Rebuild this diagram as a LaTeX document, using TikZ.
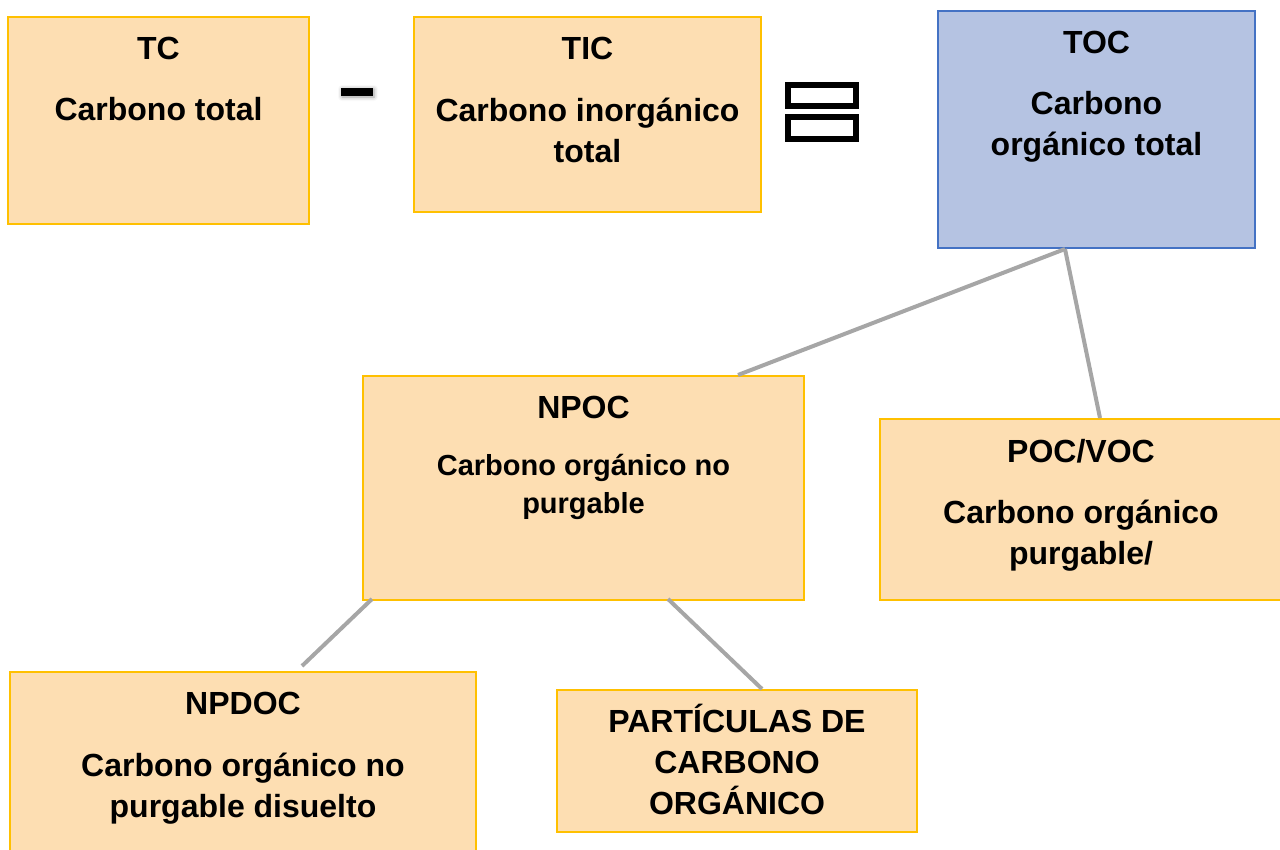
\documentclass[tikz,border=0pt]{standalone}
\usepackage{fontspec}
\setmainfont{Liberation Sans}
\usetikzlibrary{shadows.blur}
\definecolor{peach}{HTML}{FDDEB2}
\definecolor{gold}{HTML}{FFC000}
\definecolor{lilac}{HTML}{B5C3E2}
\definecolor{steel}{HTML}{4472C4}
\definecolor{linkgray}{HTML}{A6A6A6}
\tikzset{
  cbox/.style={draw=gold, fill=peach, line width=2pt, inner sep=0pt},
  tocbox/.style={draw=steel, fill=lilac, line width=2pt, inner sep=0pt},
  title/.style={anchor=north, inner sep=0pt, font=\bfseries\fontsize{32}{41}\selectfont},
  body/.style={title, align=center},
  link/.style={draw=linkgray, line width=4pt},
  eqbar/.style={draw=black, fill=white, line width=6pt, minimum width=68pt, inner sep=0pt},
}
\begin{document}
\begin{tikzpicture}[x=1pt,y=-1pt] % TOC = TC - TIC and its parts
  \useasboundingbox (0,0) rectangle (1280,849);
  \clip (0,0) rectangle (1280,849);
  \foreach \name/\x/\y/\w/\h in {tc/158.5/120.5/301/207, tic/587.5/114.5/347/195,
      npoc/583.5/488/441/224, poc/1081/509.5/402/181, npdoc/243/776/466/208,
      part/737/761/360/142} {
    \node[cbox, minimum width=\w pt, minimum height=\h pt] (\name) at (\x,\y) {};
  };
  \node[tocbox, minimum width=317pt, minimum height=237pt] (toc) at (1096.5,129.5) {};
  \foreach \name/\t/\b in {tc/TC/{Carbono total}, tic/TIC/{Carbono inorgánico\\total},
      toc/TOC/{Carbono\\orgánico total}, poc/POC\slash VOC/{Carbono orgánico\\purgable/},
      npdoc/NPDOC/{Carbono orgánico no\\purgable disuelto}} {
    \node[title] (\name-title) at ([yshift=-21pt]\name.north) {\t};
    \node[body] (\name-body) at ([yshift=-81.5pt]\name.north) {\b};
  };
  \node[title] (npoc-title) at ([yshift=-21pt]npoc.north) {NPOC};
  \node[body, font=\bfseries\fontsize{29}{38}\selectfont] (npoc-body)
    at ([yshift=-79pt]npoc.north) {Carbono orgánico no\\purgable};
  \node[body] (part-body) at ([yshift=-15pt]part.north)
    {PARTÍCULAS DE\\CARBONO\\ORGÁNICO};
  % operators
  \node[fill=black, minimum width=32pt, minimum height=8pt, inner sep=0pt,
    blur shadow={shadow xshift=1pt, shadow yshift=-1pt, shadow blur radius=4pt}]
    (minus) at (357,92) {};
  \node[eqbar, minimum height=21pt] (eqtop) at (822,95.5) {};
  \node[eqbar, minimum height=22pt] (eqbot) at (822,128) {};
  \draw[link] ([xshift=-31.5pt]toc.south) -- ([xshift=154.5pt]npoc.north);
  \draw[link] ([xshift=-31.5pt]toc.south) -- ([xshift=19pt]poc.north);
  \draw[link] ([xshift=-211.5pt,yshift=2pt]npoc.south) -- ([xshift=59pt,yshift=5pt]npdoc.north);
  \draw[link] ([xshift=84.5pt,yshift=2pt]npoc.south) -- ([xshift=25pt]part.north);
\end{tikzpicture}
\end{document}
